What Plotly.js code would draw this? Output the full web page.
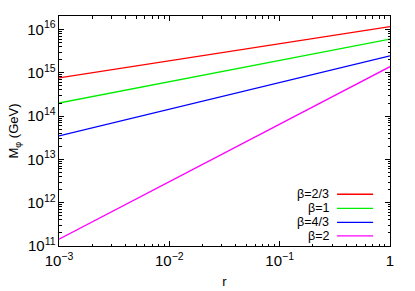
<!DOCTYPE html>
<html>
<head>
<meta charset="utf-8">
<script src="https://cdn.plot.ly/plotly-3.0.1.min.js"></script>
<style>html,body{margin:0;padding:0;background:#fff;}#chart{width:415px;height:291px;}</style>
</head>
<body>
<div id="chart"></div>
<script>
// Data
const rValues = [0.001, 1];
const seriesNames = ["β=2/3", "β=1", "β=4/3", "β=2"];
const seriesColors = ["#ff0000", "#00ee00", "#0000ff", "#ff00ff"];
const mBeta23 = [7.6e14, 1.16e16];
const mBeta1 = [2.0e14, 6.0e15];
const mBeta43 = [3.5e13, 2.45e15];
const mBeta2 = [1.43e11, 1.38e15];
const seriesValues = [mBeta23, mBeta1, mBeta43, mBeta2];

const font = {family: "Liberation Sans, Arial, sans-serif", size: 12, color: "#000"};
const titleFont = {family: "Liberation Sans, Arial, sans-serif", size: 13, color: "#000"};
const legendFont = {family: "Liberation Sans, Arial, sans-serif", size: 12.5, color: "#000"};

const traces = seriesValues.map((v, i) => ({
  x: rValues, y: v, type: "scatter", mode: "lines", name: seriesNames[i],
  line: {color: seriesColors[i], width: 1.3}, showlegend: false, hoverinfo: "skip"
}));

// manual gnuplot-style legend (text right, sample line to the right)
const legY = [0.225, 0.164, 0.103, 0.044];
const annotations = seriesNames.map((n, i) => ({
  xref: "paper", yref: "paper", x: 0.818, y: legY[i], xanchor: "right", yanchor: "middle",
  text: n, showarrow: false, font: legendFont, borderpad: 0
}));
const shapes = seriesNames.map((n, i) => ({
  type: "line", xref: "paper", yref: "paper", x0: 0.840, x1: 0.949, y0: legY[i], y1: legY[i],
  line: {color: seriesColors[i], width: 1.3}
}));

const axisCommon = {
  type: "log", showline: true, linecolor: "#000", linewidth: 1, mirror: "allticks",
  ticks: "inside", ticklen: 5, tickwidth: 1, tickcolor: "#000",
  showgrid: false, zeroline: false, exponentformat: "power", dtick: 1,
  tickfont: font,
  minor: {ticks: "inside", ticklen: 2.5, tickwidth: 1, tickcolor: "#000", dtick: "D1", showgrid: false}
};

const layout = {
  width: 415, height: 291,
  margin: {l: 59, r: 25, t: 16, b: 45},
  paper_bgcolor: "#fff", plot_bgcolor: "#fff",
  font: font,
  xaxis: Object.assign({}, axisCommon, {range: [-3, 0], ticklabelstandoff: 2, title: {text: "r", font: titleFont, standoff: 8}}),
  yaxis: Object.assign({}, axisCommon, {range: [11, 16.31], title: {text: "M<sub>φ</sub> (GeV)", font: titleFont, standoff: 5}}),
  annotations: annotations,
  shapes: shapes,
  showlegend: false
};

Plotly.newPlot("chart", traces, layout, {displayModeBar: false, staticPlot: true});
</script>
</body>
</html>
